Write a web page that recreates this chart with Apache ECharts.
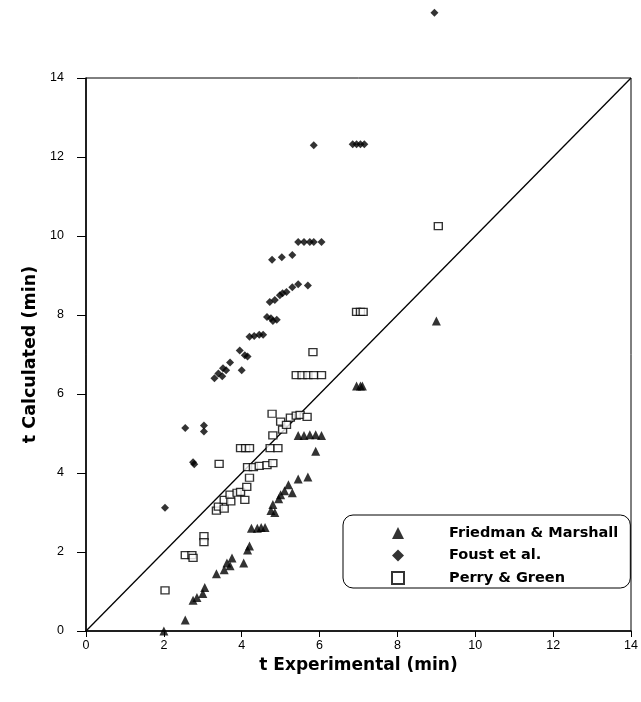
<!DOCTYPE html>
<html>
<head>
<meta charset="utf-8">
<script src="https://cdn.jsdelivr.net/npm/echarts@6/dist/echarts.min.js"></script>
<style>
html,body{margin:0;padding:0;background:#fff;}
#chart{width:641px;height:702px;}
</style>
</head>
<body>
<div id="chart"></div>
<script>
const seriesNames = ['Friedman & Marshall', 'Foust et al.', 'Perry & Green'];
const xTicks = [0, 2, 4, 6, 8, 10, 12, 14];
const yTicks = [0, 2, 4, 6, 8, 10, 12, 14];

const friedman = [
  [2.0,0.0],[2.55,0.28],[2.75,0.78],[2.85,0.85],[3.0,0.95],[3.05,1.1],[3.35,1.45],[3.55,1.55],
  [3.62,1.72],[3.75,1.85],[3.7,1.65],[4.05,1.72],[4.2,2.15],[4.15,2.05],[4.25,2.6],[4.4,2.6],
  [4.5,2.62],[4.6,2.62],[4.75,3.05],[4.85,3.0],[4.8,3.2],[4.95,3.35],[5.0,3.45],[5.1,3.55],
  [5.2,3.7],[5.3,3.5],[5.45,3.85],[5.7,3.9],[5.9,4.55],[5.45,4.95],[5.6,4.95],[5.75,4.97],
  [5.9,4.97],[6.05,4.95],[6.95,6.2],[7.05,6.2],[7.1,6.2],[9.0,7.85]
];
const foust = [
  [2.03,3.12],[2.55,5.14],[2.75,4.27],[2.78,4.22],[3.03,5.2],[3.03,5.05],[3.3,6.4],[3.4,6.52],
  [3.5,6.45],[3.52,6.65],[3.6,6.6],[3.7,6.8],[4.0,6.6],[3.95,7.1],[4.08,6.98],[4.15,6.95],
  [4.2,7.45],[4.32,7.47],[4.45,7.5],[4.55,7.5],[4.65,7.95],[4.75,7.92],[4.8,7.85],[4.9,7.88],
  [4.72,8.33],[4.85,8.38],[4.98,8.5],[5.05,8.55],[5.15,8.58],[5.3,8.7],[5.45,8.78],[5.7,8.75],
  [4.78,9.4],[5.03,9.46],[5.3,9.52],[5.45,9.85],[5.6,9.85],[5.75,9.85],[5.85,9.85],[6.05,9.85],
  [5.85,12.3],[6.85,12.32],[6.95,12.32],[7.05,12.32],[7.15,12.32],[8.95,15.65]
];
const perry = [
  [2.03,1.03],[2.55,1.92],[2.72,1.92],[2.75,1.85],[3.03,2.4],[3.03,2.25],[3.35,3.05],[3.4,3.15],
  [3.55,3.1],[3.55,3.32],[3.72,3.28],[3.7,3.45],[3.88,3.5],[3.97,3.52],[4.08,3.32],[4.13,3.65],
  [4.2,3.88],[4.15,4.15],[4.3,4.15],[4.45,4.18],[4.65,4.2],[4.8,4.25],[3.42,4.23],[3.97,4.63],
  [4.1,4.63],[4.2,4.63],[4.73,4.63],[4.93,4.63],[4.8,4.95],[4.78,5.5],[5.0,5.3],[5.05,5.1],
  [5.15,5.22],[5.25,5.4],[5.4,5.45],[5.5,5.47],[5.68,5.42],[5.4,6.48],[5.55,6.48],[5.7,6.48],
  [5.85,6.48],[6.05,6.48],[5.83,7.06],[6.95,8.08],[7.05,8.08],[7.12,8.08],[9.05,10.25]
];
const parityLine = [[0,0],[14,14]];

const font = 'Arial, "Liberation Sans", sans-serif';
const wideFont = '"DejaVu Sans", Verdana, sans-serif';
const chart = echarts.init(document.getElementById('chart'), null, {renderer:'canvas'});
chart.setOption({
  animation: false,
  backgroundColor: '#fff',
  grid: {left: 86, right: 10, top: 78, bottom: 71, show: true, borderColor: '#000', borderWidth: 1},
  xAxis: {
    type: 'value', min: xTicks[0], max: xTicks[xTicks.length-1], interval: 2,
    name: 't Experimental (min)', nameLocation: 'middle', nameGap: 23,
    nameTextStyle: {fontFamily: wideFont, fontWeight: 'bold', fontSize: 17, color: '#000'},
    axisLine: {lineStyle: {color: '#000', width: 1.5}},
    axisTick: {show: true, length: 6, lineStyle: {color: '#000'}},
    axisLabel: {color: '#000', fontFamily: font, fontSize: 12.5, margin: 8},
    splitLine: {show: false}
  },
  yAxis: {
    type: 'value', min: yTicks[0], max: yTicks[yTicks.length-1], interval: 2,
    name: 't Calculated (min)', nameLocation: 'middle', nameGap: 46,
    nameTextStyle: {fontFamily: wideFont, fontWeight: 'bold', fontSize: 17.5, color: '#000'},
    axisLine: {lineStyle: {color: '#000', width: 1.5}},
    axisTick: {show: true, length: 9, lineStyle: {color: '#000'}},
    axisLabel: {color: '#000', fontFamily: font, fontSize: 12.5, margin: 22},
    splitLine: {show: false}
  },
  legend: {
    data: seriesNames,
    orient: 'vertical',
    left: 343, top: 515,
    padding: [10, 12, 2, 48],
    itemWidth: 12, itemHeight: 12, itemGap: 6.5,
    borderColor: '#000', borderWidth: 1, borderRadius: 10,
    textStyle: {fontFamily: wideFont, fontWeight: 'bold', fontSize: 14.5, lineHeight: 16, color: '#000', padding: [0,0,0,40]}
  },
  series: [
    {type: 'line', data: parityLine, symbol: 'none', silent: true,
     lineStyle: {color: '#000', width: 1.3}, z: 1},
    {name: seriesNames[0], type: 'scatter', data: friedman, symbol: 'triangle', symbolSize: 9,
     itemStyle: {color: '#000'}, z: 3},
    {name: seriesNames[1], type: 'scatter', data: foust, symbol: 'diamond', symbolSize: 8, clip: false,
     itemStyle: {color: '#000'}, z: 3},
    {name: seriesNames[2], type: 'scatter', data: perry, symbol: 'rect', symbolSize: [8,7],
     itemStyle: {color: '#fff', borderColor: '#000', borderWidth: 1.3}, z: 2}
  ]
});
</script>
</body>
</html>
